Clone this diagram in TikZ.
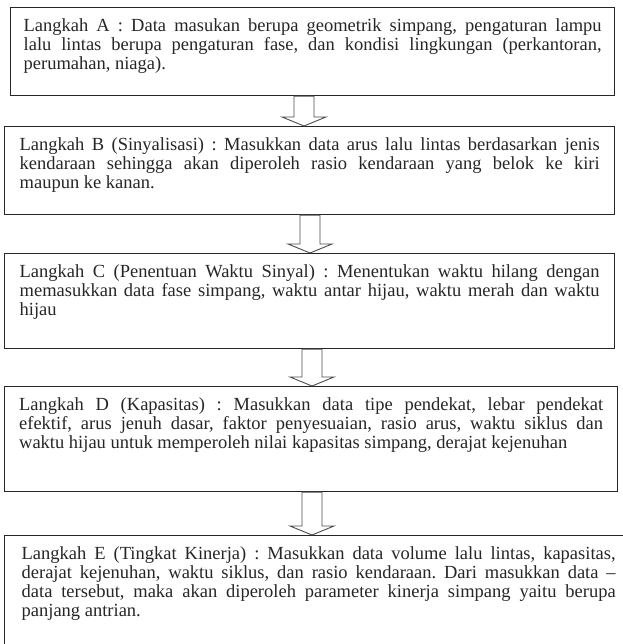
\documentclass[tikz,border=0pt]{standalone}
\usepackage{fontspec}
\setmainfont{Liberation Serif}
\usetikzlibrary{calc}
\tikzset{
  langkah/.style={draw=black!85, line width=1.3pt, anchor=north west, align=justify,
    inner ysep=11pt, text=black!85, font=\fontsize{18.5}{19}\selectfont},
  panah/.style={draw=black!70, fill=white, line width=0.9pt, line join=miter}
}
\begin{document}
\frenchspacing\hyphenpenalty=10000
\begin{tikzpicture}[x=1pt,y=-1pt]
\useasboundingbox (0,0) rectangle (622,644);
\node[langkah,name=a,text width=578pt,inner xsep=13pt,text depth=53pt] at (10,7)
  {Langkah A : Data masukan berupa geometrik simpang, pengaturan lampu\linebreak
   lalu lintas berupa pengaturan fase, dan kondisi lingkungan (perkantoran,\linebreak
   perumahan, niaga).};
\node[langkah,name=b,text width=580pt,inner xsep=15pt,text depth=53pt] at (4,126)
  {Langkah B (Sinyalisasi) : Masukkan data arus lalu lintas berdasarkan jenis\linebreak
   kendaraan sehingga akan diperoleh rasio kendaraan yang belok ke kiri\linebreak
   maupun ke kanan.};
\node[langkah,name=c,text width=580pt,inner xsep=15pt,text depth=60pt] at (4,253)
  {Langkah C (Penentuan Waktu Sinyal) : Menentukan waktu hilang dengan\linebreak
   memasukkan data fase simpang, waktu antar hijau, waktu merah dan waktu\linebreak
   hijau};
\node[langkah,name=d,text width=584pt,inner xsep=14.5pt,text depth=70pt] at (4,386)
  {Langkah D (Kapasitas) : Masukkan data tipe pendekat, lebar pendekat\linebreak
   efektif, arus jenuh dasar, faktor penyesuaian, rasio arus, waktu siklus dan\linebreak
   waktu hijau untuk memperoleh nilai kapasitas simpang, derajat kejenuhan};
\node[langkah,name=e,text width=594pt,inner xsep=17pt,text depth=100pt] at (4,535)
  {Langkah E (Tingkat Kinerja) : Masukkan data volume lalu lintas, kapasitas,\linebreak
   derajat kejenuhan, waktu siklus, dan rasio kendaraan. Dari masukkan data –\linebreak
   data tersebut, maka akan diperoleh parameter kinerja simpang yaitu berupa\linebreak
   panjang antrian.};
% panah blok antar langkah
\foreach \atas/\bawah/\tengah in {a/b/304, b/c/310, c/d/312, d/e/312}
  \draw[panah] let \p1=(\atas.south), \p2=(\bawah.north) in
    (\tengah pt-10pt,\y1) -- (\tengah pt+10pt,\y1) -- (\tengah pt+10pt,\y2+9pt)
    -- (\tengah pt+22pt,\y2+9pt) -- (\tengah pt,\y2) -- (\tengah pt-22pt,\y2+9pt)
    -- (\tengah pt-10pt,\y2+9pt) -- cycle;
\end{tikzpicture}
\end{document}
